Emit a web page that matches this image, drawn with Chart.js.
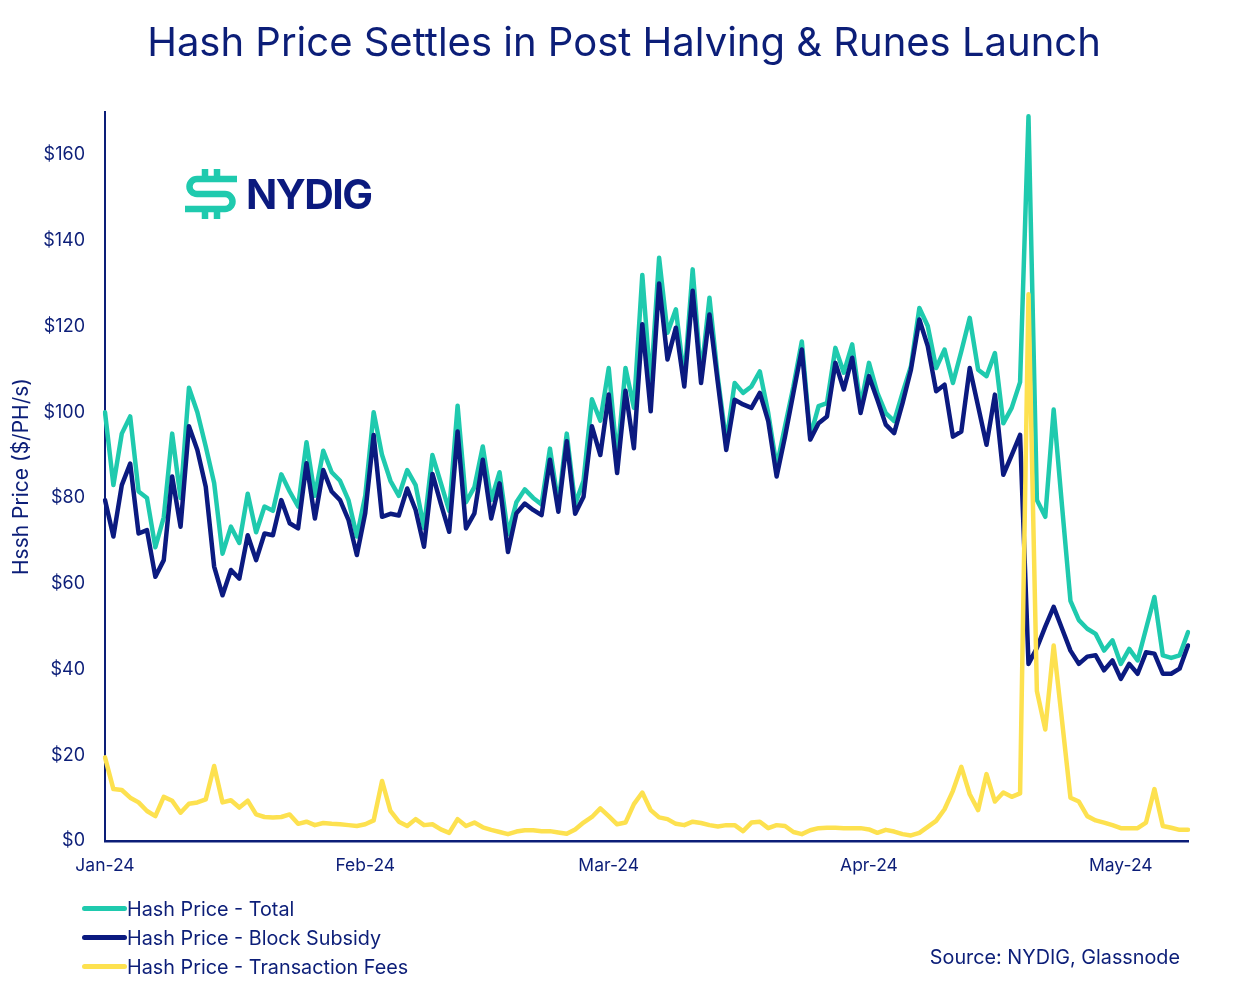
<!DOCTYPE html>
<html>
<head>
<meta charset="utf-8">
<script src="https://cdn.jsdelivr.net/npm/chart.js@4.4.1/dist/chart.umd.min.js"></script>
<style>
  body { margin: 0; background: #fff; font-family: Inter, 'Noto Sans', sans-serif; }
  #wrap { position: relative; width: 1248px; height: 994px; }
  #canvas-1 { position: absolute; left: 0; top: 0; }
  h1 { position: absolute; left: 0; width: 1248px; top: 18px; margin: 0; text-align: center;
       font-weight: 400; font-size: 40px; line-height: 48px; color: #0c1e78; }
  .logo { position: absolute; left: 184px; top: 166px; display: flex; align-items: center; }
  .logo span { font-weight: 700; font-size: 41px; color: #0b1a7e; margin-left: 8px; letter-spacing: -1.5px; }
  .legend { position: absolute; left: 82px; top: 894px; color: #0c1e78; font-size: 19.8px; }
  .legend div { display: flex; align-items: center; height: 29px; }
  .legend i { display: inline-block; width: 45px; height: 5px; border-radius: 3px; }
  .source { position: absolute; right: 68px; top: 945px; color: #0c1e78; font-size: 19.8px; }
</style>
</head>
<body>
<div id="wrap">
  <canvas id="canvas-1" width="1248" height="994"></canvas>
  <h1>Hash Price Settles in Post Halving &amp; Runes Launch</h1>
  <div class="logo">
    <svg width="54" height="56" viewBox="0 0 54 56">
      <g fill="none" stroke="#1fcaae" stroke-width="6.5" stroke-linecap="butt">
        <path d="M53,13 H13 a7.5,7.5 0 0 0 0,15 H41 a7.5,7.5 0 0 1 0,15 H1"/>
        <path d="M21,3 V13 M33,3 V13 M21,43 V53 M33,43 V53"/>
      </g>
    </svg>
    <span>NYDIG</span>
  </div>
  <div class="legend">
    <div><i style="background:#1fcaae"></i>Hash Price - Total</div>
    <div><i style="background:#0b1a80"></i>Hash Price - Block Subsidy</div>
    <div><i style="background:#fde14f"></i>Hash Price - Transaction Fees</div>
  </div>
  <div class="source">Source: NYDIG, Glassnode</div>
</div>
<script>
'use strict';

// daily values, 1 Jan 2024 .. 9 May 2024
var totalValues = [
  100, 83, 95, 99, 81.5, 80, 68.5, 75.5, 95, 80,
  105.7, 100, 92, 83.5, 67, 73.3, 69.5, 81, 72, 78,
  77, 85.5, 81.5, 78, 93, 80.5, 91, 86, 84, 79.5,
  71, 80.5, 100, 90, 84, 80.5, 86.5, 83, 73, 90,
  83.5, 77, 101.5, 79, 82.5, 92, 79.5, 86, 71.5, 79,
  82, 80, 78.5, 91.5, 78.5, 95, 78.5, 84, 103, 98,
  110.3, 89, 110.3, 101, 132, 106, 136, 118.5, 124, 107.6,
  133.3, 108.4, 126.7, 108, 93, 106.8, 104.5, 106, 109.5, 99.8,
  87.3, 96.7, 106, 116.5, 94.3, 101.4, 102.1, 115, 109.2, 115.8,
  101.4, 111.5, 104.5, 99.8, 97.9, 104.5, 110.7, 124.3, 120.1, 110.3,
  114.6, 106.8, 114.2, 122, 109.9, 108.4, 113.8, 97.4, 101, 107,
  169, 79.5, 75.6, 100.6, 78, 56, 51.5, 49.5, 48.3, 44.4,
  46.8, 41.3, 44.8, 42.1, 49.5, 56.9, 43.3, 42.7, 43.3, 48.7
];
var subsidyValues = [
  79.5, 71, 83, 88, 71.7, 72.5, 61.6, 65.5, 85, 73.3,
  96.7, 91.2, 82.6, 64, 57.3, 63.2, 61.2, 71.3, 65.5, 71.7,
  71.3, 79.5, 74.1, 72.9, 88.1, 75.2, 86.5, 81.5, 79.5, 74.9,
  66.7, 76.5, 94.7, 75.6, 76.3, 75.9, 82.2, 77.2, 68.6, 85.6,
  78.7, 72.1, 95.5, 72.9, 76.4, 88.9, 75.2, 83.4, 67.4, 76.4,
  78.7, 77.2, 76, 88.9, 76.8, 93.2, 76.3, 80.3, 96.7, 90,
  104.1, 85.8, 105, 91.6, 120.5, 100.2, 130, 112.3, 119.7, 106,
  128.3, 106.8, 122.8, 106.8, 91.2, 102.9, 101.8, 101, 104.5, 97.9,
  85, 94.3, 104.5, 114.6, 93.6, 97.4, 99, 111.5, 105.3, 112.7,
  99.8, 108.4, 102.9, 97.1, 95.1, 102.1, 109.9, 121.6, 115.4, 104.9,
  106.4, 94.3, 95.5, 110.3, 101.4, 92.4, 104.1, 85.4, 90, 94.7,
  41.3, 45, 50, 54.6, 49.5, 44.4, 41.3, 43, 43.3, 39.8,
  42.1, 37.8, 41.3, 39, 44, 43.7, 39, 39, 40.2, 45.6
];
var feeValues = [
  19.5, 12.1, 11.9, 10.1, 9, 7, 5.8, 10.3, 9.4, 6.6,
  8.7, 9, 9.7, 17.5, 9, 9.5, 7.8, 9.4, 6.2, 5.6,
  5.5, 5.6, 6.2, 4, 4.5, 3.7, 4.2, 4, 3.9, 3.7,
  3.5, 3.9, 4.8, 14, 7, 4.5, 3.5, 5.1, 3.7, 3.9,
  2.7, 1.9, 5.1, 3.5, 4.3, 3.2, 2.6, 2.1, 1.6, 2.2,
  2.5, 2.5, 2.3, 2.3, 2, 1.7, 2.7, 4.3, 5.6, 7.6,
  5.8, 3.9, 4.3, 8.6, 11.3, 7.2, 5.5, 5.1, 4, 3.7,
  4.5, 4.2, 3.7, 3.4, 3.7, 3.7, 2.3, 4.3, 4.5, 3,
  3.7, 3.5, 2.1, 1.6, 2.5, 3, 3.1, 3.1, 3, 3,
  3, 2.7, 1.9, 2.6, 2.2, 1.6, 1.3, 1.9, 3.3, 4.7,
  7.4, 11.7, 17.3, 10.9, 7.2, 15.6, 9.2, 11.3, 10.3, 11.1,
  127.5, 35, 26, 45.6, 28, 10.1, 9.2, 5.8, 4.8, 4.3,
  3.7, 3, 3, 3, 4.3, 12.1, 3.5, 3.1, 2.6, 2.6
];

var tickLabels = ['Jan-24', 'Feb-24', 'Mar-24', 'Apr-24', 'May-24'];
var tickIndex = [0, 31, 60, 91, 121];
var yTicks = [0, 20, 40, 60, 80, 100, 120, 140, 160];

var days = [];
for (var d = 0; d < totalValues.length; d++) {
  var dt = new Date(2024, 0, 1 + d);
  days.push(dt.getFullYear() + '-' + (dt.getMonth() + 1) + '-' + dt.getDate());
}

var navy = '#0c1e78';
var font = 'Inter, "Noto Sans", sans-serif';

var ctx = document.getElementById('canvas-1');
var chart = new Chart(ctx, {
  type: 'line',
  data: {
    labels: days,
    datasets: [
      { label: 'Hash Price - Total', data: totalValues, borderColor: '#1fcaae', order: 3 },
      { label: 'Hash Price - Block Subsidy', data: subsidyValues, borderColor: '#0b1a80', order: 2 },
      { label: 'Hash Price - Transaction Fees', data: feeValues, borderColor: '#fde14f', order: 1 }
    ]
  },
  options: {
    responsive: false,
    animation: false,
    layout: { padding: { left: 5, right: 60, top: 112, bottom: 104 } },
    elements: {
      line: { borderWidth: 4.5, tension: 0, borderJoinStyle: 'round', borderCapStyle: 'round' },
      point: { radius: 0 }
    },
    plugins: {
      legend: { display: false },
      tooltip: { enabled: false },
      title: { display: false }
    },
    scales: {
      x: {
        type: 'category',
        offset: false,
        grid: { display: false, drawTicks: false },
        border: { display: true, color: navy, width: 2.5 },
        afterBuildTicks: function (scale) {
          scale.ticks = tickIndex.map(function (v) { return { value: v }; });
        },
        ticks: {
          autoSkip: false,
          maxRotation: 0,
          padding: 14,
          color: navy,
          font: { family: font, size: 17.5 },
          callback: function (v) { return tickLabels[tickIndex.indexOf(v)]; }
        }
      },
      y: {
        min: 0,
        max: 170,
        grid: { display: false, drawTicks: false },
        border: { display: true, color: navy, width: 2 },
        afterBuildTicks: function (scale) {
          scale.ticks = yTicks.map(function (v) { return { value: v }; });
        },
        afterFit: function (scale) { scale.width = 100; },
        ticks: {
          padding: 20,
          color: navy,
          font: { family: font, size: 18 },
          callback: function (v) { return '$' + v; }
        },
        title: {
          display: true,
          text: 'Hssh Price ($/PH/s)',
          color: navy,
          font: { family: font, size: 21 },
          padding: { top: 4, bottom: 8 }
        }
      }
    }
  }
});
</script>
</body>
</html>
